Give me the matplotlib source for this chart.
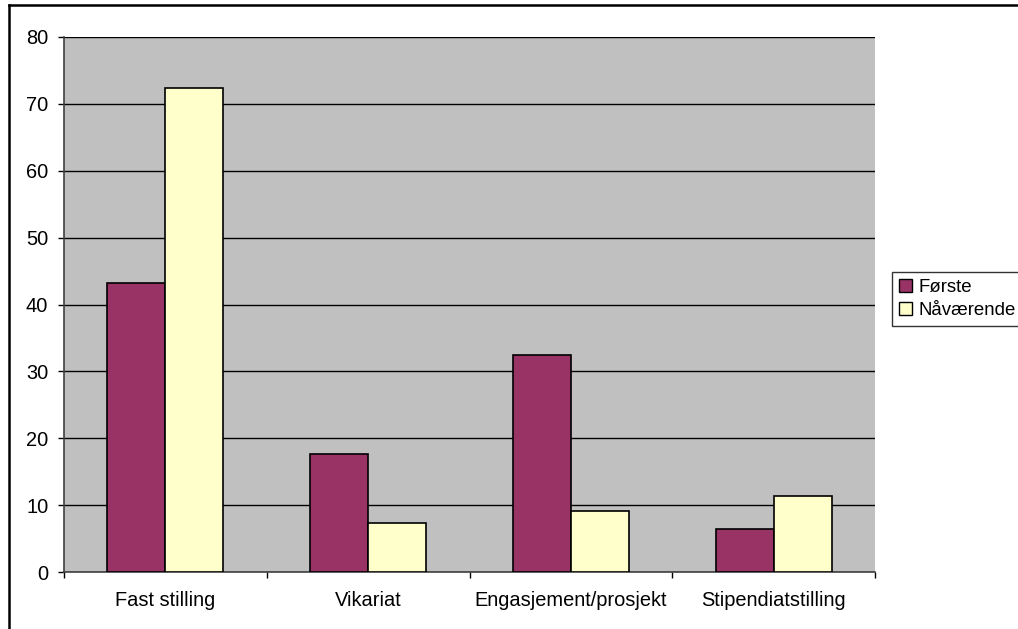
import numpy as np
import matplotlib
matplotlib.use('Agg')
import matplotlib.pyplot as plt
from matplotlib.lines import Line2D

plt.rcParams['font.family'] = ['Liberation Sans', 'DejaVu Sans']

categories = ['Fast stilling', 'Vikariat', 'Engasjement/prosjekt', 'Stipendiatstilling']
forste = [43.2, 17.7, 32.5, 6.5]
naavaerende = [72.3, 7.4, 9.1, 11.3]
series_names = ['Første', 'Nåværende']
yticks = [0, 10, 20, 30, 40, 50, 60, 70, 80]

W, H = 1018, 629
fig = plt.figure(figsize=(W / 100, H / 100), dpi=100)
fig.patch.set_facecolor('white')

# plot area in pixels: x 64..875, y 37..572
ax = fig.add_axes([64 / W, 1 - 572 / H, (875 - 64) / W, (572 - 37) / H])
ax.set_facecolor('#C0C0C0')

x = np.arange(len(categories))
w = 1 / 3.5
ax.bar(x - w / 2, forste, width=w, color='#993366', edgecolor='black', linewidth=1.2,
       label=series_names[0], zorder=3)
ax.bar(x + w / 2, naavaerende, width=w, color='#FFFFCC', edgecolor='black', linewidth=1.2,
       label=series_names[1], zorder=3)

ax.set_xlim(-0.5, len(categories) - 0.5)
ax.set_ylim(0, 80)
ax.set_yticks(yticks)
ax.yaxis.grid(True, color='black', linewidth=1, zorder=1)
ax.set_axisbelow(True)

# category boundary ticks on x
ax.set_xticks(np.arange(len(categories) + 1) - 0.5)
ax.set_xticklabels([])
ax.set_xticks(x, minor=True)
ax.set_xticklabels(categories, minor=True, fontsize=14.4)
ax.tick_params(axis='x', which='minor', length=0, pad=14)
ax.tick_params(axis='x', which='major', direction='out', length=4.3, width=1)
ax.tick_params(axis='y', direction='out', length=4.3, width=1, labelsize=14.4, pad=7)

for s in ['top', 'right']:
    ax.spines[s].set_visible(False)
ax.spines['left'].set_color('#404040')
ax.spines['bottom'].set_color('#404040')
ax.spines['left'].set_linewidth(1.2)
ax.spines['bottom'].set_linewidth(1.2)

leg = fig.legend(loc='upper left', bbox_to_anchor=(892 / W, 1 - 272 / H),
                 frameon=True, fancybox=False, shadow=False, fontsize=13.4,
                 handlelength=0.7, handleheight=0.7, handletextpad=0.4,
                 borderpad=0.35, labelspacing=0.35, borderaxespad=0)
leg.get_frame().set_edgecolor('black')
leg.get_frame().set_linewidth(1)
for p in leg.get_patches():
    p.set_linewidth(1)

# outer chart frame (top and left visible)
fig.add_artist(Line2D([9 / W, 1], [1 - 5 / H, 1 - 5 / H], color='black', linewidth=1.8))
fig.add_artist(Line2D([9 / W, 9 / W], [0, 1 - 5 / H], color='black', linewidth=1.8))

fig.savefig('out.png', dpi=100)
